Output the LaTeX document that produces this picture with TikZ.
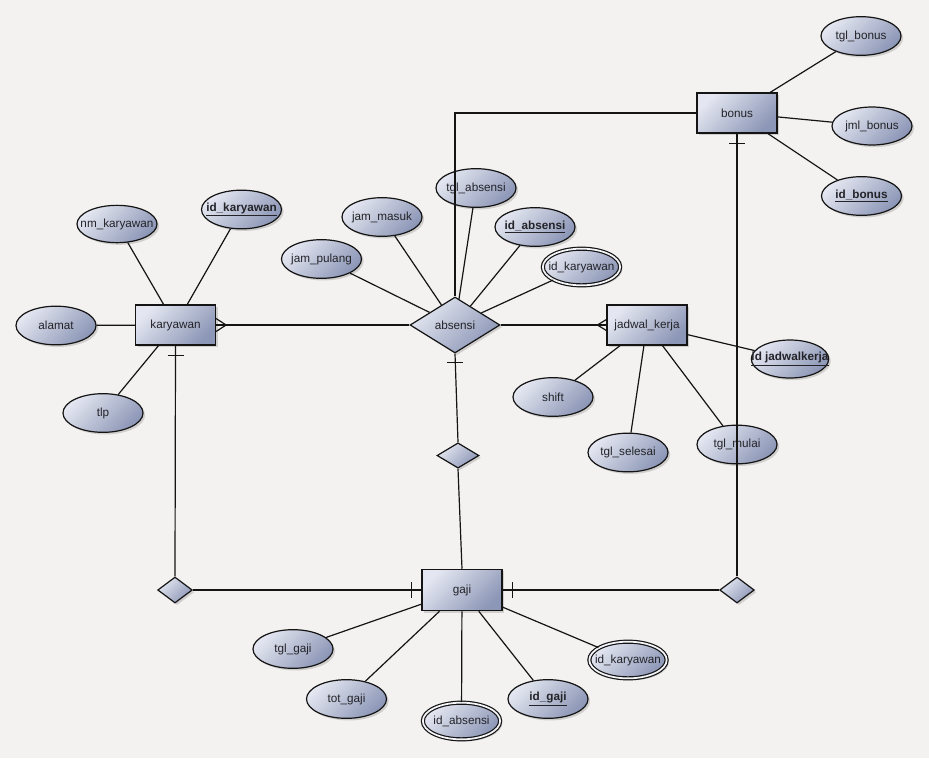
\documentclass[tikz,border=0pt]{standalone}
\usepackage{fontspec}
\setmainfont{Liberation Sans}
\usetikzlibrary{shapes.geometric,shadows,calc}
\definecolor{bgc}{RGB}{243,242,240}
\definecolor{lightc}{RGB}{228,231,241}
\definecolor{darkc}{RGB}{140,150,182}
\definecolor{linec}{RGB}{20,20,20}
\definecolor{txtc}{RGB}{35,35,40}
\newcommand{\keytxt}[1]{\underline{\textbf{#1}}}
\begin{document}
\begin{tikzpicture}[x=0.75pt,y=-0.75pt,
  font=\fontsize{8.8}{10}\selectfont, text=txtc,
  base/.style={draw=linec, line width=0.9pt, top color=lightc, bottom color=darkc,
    shading angle=45,
    drop shadow={shadow xshift=1.6pt, shadow yshift=-1.6pt, opacity=0.3},
    inner sep=0pt,
    execute at begin node={\hbox to 0pt\bgroup\hss},
    execute at end node={\hss\egroup}},
  entity/.style={base, rectangle, minimum width=60pt, minimum height=30pt},
  attr/.style={base, ellipse, minimum width=60pt, minimum height=29pt},
  wattr/.style={attr, double=lightc!40!white, double distance=1.3pt, minimum width=58pt, minimum height=27.5pt},
  rel/.style={base, diamond},
  conn/.style={draw=linec, line width=0.9pt}
]
\fill[bgc] (0,0) rectangle (929,758);
\useasboundingbox (0,0) rectangle (929,758);

% entities
\node[entity] (bonus) at (737,113) {bonus};
\node[entity] (kar) at (175.5,325) {karyawan};
\node[entity] (jad) at (647,325) {jadwal\_kerja};
\node[entity, minimum height=31pt] (gaji) at (462,590) {gaji};

% relationships
\node[rel, minimum width=67.5pt, minimum height=42pt] (abs) at (455,325) {absensi};
\node[rel, minimum width=31.5pt, minimum height=19pt] (md) at (458,455.5) {};
\node[rel, minimum width=26pt, minimum height=19.5pt] (ld) at (175,590) {};
\node[rel, minimum width=26pt, minimum height=19.5pt] (rd) at (737,590) {};

% bonus attributes
\node[attr] (tglb) at (861,36) {tgl\_bonus};
\node[attr, minimum height=28.5pt] (jmlb) at (872,126) {jml\_bonus};
\node[attr] (idb) at (861.5,196) {\keytxt{id\_bonus}};

% karyawan attributes
\node[attr, minimum height=28pt] (nmk) at (117,224) {nm\_karyawan};
\node[attr] (idk) at (241.5,209.5) {\keytxt{id\_karyawan}};
\node[attr] (alamat) at (56,325.5) {alamat};
\node[attr] (tlp) at (103,413) {tlp};

% absensi attributes
\node[attr] (tgla) at (476,188) {tgl\_absensi};
\node[attr] (jamm) at (382,217) {jam\_masuk};
\node[attr] (ida) at (535,227) {\keytxt{id\_absensi}};
\node[attr] (jamp) at (321.5,259) {jam\_pulang};
\node[wattr] (idk2) at (581.5,267) {id\_karyawan};

% jadwal_kerja attributes
\node[attr, minimum width=58pt, minimum height=28.5pt] (idj) at (790,359) {\keytxt{id jadwalkerja}};
\node[attr] (shift) at (553,397) {shift};
\node[attr] (tgls) at (628,452.5) {tgl\_selesai};
\node[attr] (tglm) at (737,444.5) {tgl\_mulai};

% gaji attributes
\node[attr] (tglg) at (293,649) {tgl\_gaji};
\node[attr] (totg) at (346.5,699) {tot\_gaji};
\node[wattr] (ida2) at (461.5,721) {id\_absensi};
\node[attr] (idg) at (548,699) {\keytxt{id\_gaji}};
\node[wattr] (idk3) at (628,660) {id\_karyawan};

% attribute connectors
\foreach \a/\b in {bonus/tglb, bonus/jmlb, bonus/idb,
                   kar/nmk, kar/idk, kar/alamat, kar/tlp,
                   abs/tgla, abs/jamm, abs/ida, abs/jamp, abs/idk2,
                   jad/idj, jad/shift, jad/tgls, jad/tglm,
                   gaji/tglg, gaji/totg, gaji/ida2, gaji/idg, gaji/idk3}
  \draw[conn] (\a) -- (\b);

% relationship connectors
\draw[conn] (bonus.west) -| (abs.north);
\draw[conn] (bonus.south) -- (rd.north);
\draw[conn] (kar.south) -- (ld.north);
\draw[conn] (kar.east) -- (abs.west);
\draw[conn] (abs.east) -- (jad.west);
\draw[conn] (abs.south) -- (md.north);
\draw[conn] (md.south) -- (gaji.north);
\draw[conn] (ld.east) -- (gaji.west);
\draw[conn] (rd.west) -- (gaji.east);

% cardinality marks: one
\draw[conn] ($(bonus.south)+(-8,10)$) -- ($(bonus.south)+(8,10)$);
\draw[conn] ($(kar.south)+(-8,10)$) -- ($(kar.south)+(8,10)$);
\draw[conn] ($(abs.south)+(-8,9)$) -- ($(abs.south)+(8,9)$);
\draw[conn] ($(gaji.west)+(-10,-8)$) -- ($(gaji.west)+(-10,8)$);
\draw[conn] ($(gaji.east)+(10,-8)$) -- ($(gaji.east)+(10,8)$);

% cardinality marks: many
\draw[conn] ($(kar.east)+(0,-6.5)$) -- ($(kar.east)+(10,0)$) -- ($(kar.east)+(0,6.5)$);
\draw[conn] ($(jad.west)+(0,-5.5)$) -- ($(jad.west)+(-9,0)$) -- ($(jad.west)+(0,5.5)$);
\end{tikzpicture}
\end{document}
